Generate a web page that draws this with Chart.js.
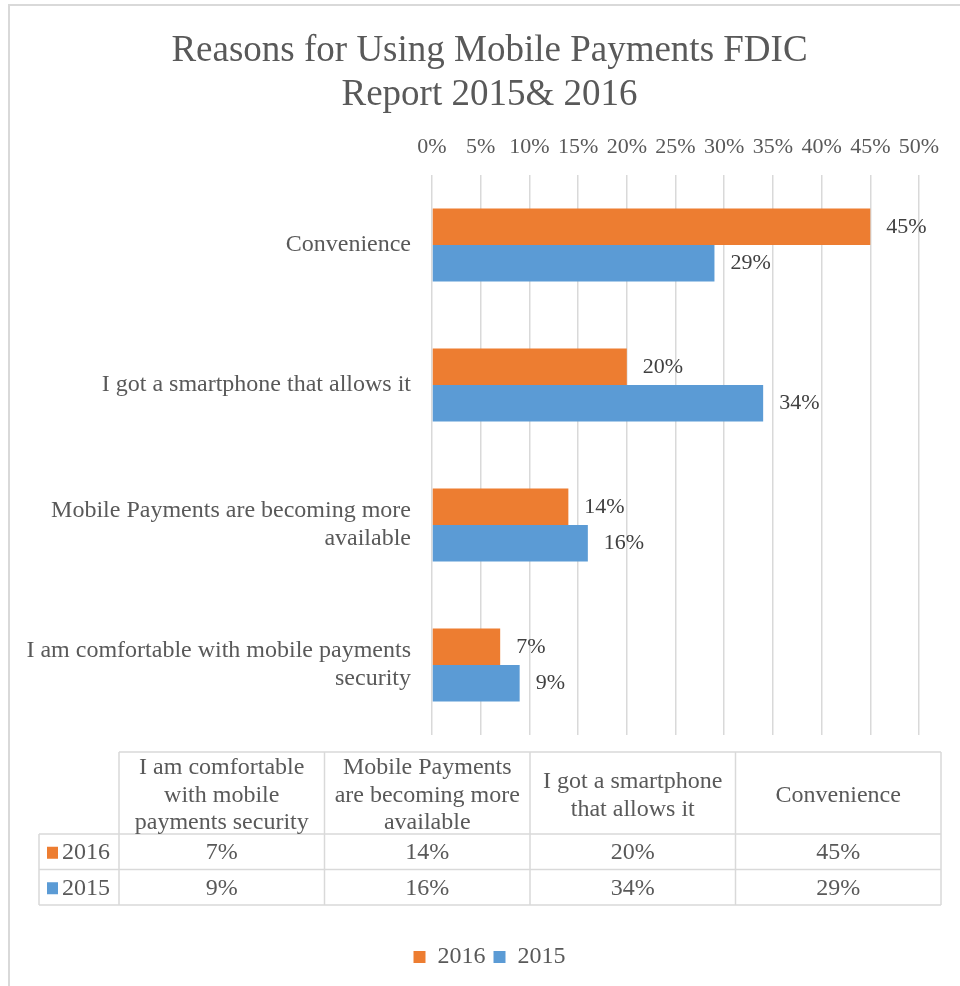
<!DOCTYPE html>
<html>
<head>
<meta charset="utf-8">
<title>Reasons for Using Mobile Payments</title>
<script src="https://cdn.jsdelivr.net/npm/chart.js@4.4.1/dist/chart.umd.min.js"></script>
<style>
    html, body { margin: 0; padding: 0; background: #fff; overflow: hidden; }
</style>
</head>
<body>
<canvas id="motivosChart" width="960" height="986"></canvas>
<script>
// Datos del informe FDIC (porcentajes), en el orden de la tabla
const categorias = [
    'I am comfortable with mobile payments security',
    'Mobile Payments are becoming more available',
    'I got a smartphone that allows it',
    'Convenience'
];
const series = ['2016', '2015'];
const valores2016 = [7, 14, 20, 45];
const valores2015 = [9, 16, 34, 29];
const tituloLineas = ['Reasons for Using Mobile Payments FDIC', 'Report 2015& 2016'];
const escalaMin = 0;   // eje de porcentajes: 0% .. 50% cada 5%
const escalaMax = 50;
const escalaPaso = 5;

const colores = ['#ED7D31', '#5B9BD5'];
const fuente = '"Liberation Serif", "Times New Roman", serif';
const grisTexto = '#595959';
const grisLinea = '#d9d9d9';

Chart.defaults.font.family = fuente;
Chart.defaults.color = grisTexto;

// Parte un texto en lineas que quepan en un ancho dado
const medidor = document.createElement('canvas').getContext('2d');
function partirTexto(texto, tam, anchoMax) {
    medidor.font = tam + 'px ' + fuente;
    const lineas = [];
    let actual = '';
    texto.split(' ').forEach(p => {
        const prueba = actual ? actual + ' ' + p : p;
        if (actual && medidor.measureText(prueba).width > anchoMax) {
            lineas.push(actual);
            actual = p;
        } else {
            actual = prueba;
        }
    });
    if (actual) lineas.push(actual);
    return lineas;
}

// Marco gris del grafico
const marco = {
    id: 'marco',
    beforeDraw(chart) {
        const ctx = chart.ctx;
        ctx.save();
        ctx.strokeStyle = grisLinea;
        ctx.lineWidth = 2;
        ctx.beginPath();
        ctx.moveTo(9, chart.height);
        ctx.lineTo(9, 5);
        ctx.lineTo(chart.width, 5);
        ctx.stroke();
        ctx.restore();
    }
};

// Titulo y leyenda centrados sobre la tabla, no sobre todo el lienzo
const centrado = {
    id: 'centrado',
    afterLayout(chart) {
        chart.titleBlock.left = 60;
        chart.legend.left = 60;
    }
};

// Etiquetas de valor al final de cada barra
const etiquetasValor = {
    id: 'etiquetasValor',
    afterDatasetsDraw(chart) {
        const ctx = chart.ctx;
        ctx.save();
        ctx.font = '22px ' + fuente;
        ctx.fillStyle = '#404040';
        ctx.textAlign = 'left';
        ctx.textBaseline = 'middle';
        chart.data.datasets.forEach((ds, i) => {
            chart.getDatasetMeta(i).data.forEach((barra, j) => {
                ctx.fillText(ds.data[j] + '%', barra.x + 16, barra.y);
            });
        });
        ctx.restore();
    }
};

// Tabla de datos debajo del area del grafico
const tablaDatos = {
    id: 'tablaDatos',
    afterDraw(chart) {
        const ctx = chart.ctx;
        const arriba = chart.chartArea.bottom + 17;
        const izq = 39, anchoEtiqueta = 80, anchoCol = 205.5;
        const altoCab = 82, altoFila = 35.5;
        const x0 = izq + anchoEtiqueta;
        const derecha = x0 + anchoCol * categorias.length;
        const datasets = chart.data.datasets;
        const abajo = arriba + altoCab + altoFila * datasets.length;

        ctx.save();
        ctx.strokeStyle = grisLinea;
        ctx.lineWidth = 1.5;
        ctx.beginPath();
        ctx.moveTo(x0, arriba);
        ctx.lineTo(derecha, arriba);
        for (let i = 0; i <= datasets.length; i++) {
            const y = arriba + altoCab + i * altoFila;
            ctx.moveTo(izq, y);
            ctx.lineTo(derecha, y);
        }
        ctx.moveTo(izq, arriba + altoCab);
        ctx.lineTo(izq, abajo);
        for (let c = 0; c <= categorias.length; c++) {
            const x = x0 + c * anchoCol;
            ctx.moveTo(x, arriba);
            ctx.lineTo(x, abajo);
        }
        ctx.stroke();

        ctx.font = '24px ' + fuente;
        ctx.fillStyle = grisTexto;
        ctx.textAlign = 'center';
        ctx.textBaseline = 'middle';
        // cabecera con los nombres de las categorias
        categorias.forEach((cat, c) => {
            const lineas = partirTexto(cat, 24, anchoCol - 10);
            const cx = x0 + (c + 0.5) * anchoCol;
            const y0 = arriba + altoCab / 2 + 2.5 - (lineas.length - 1) * 27.5 / 2;
            lineas.forEach((l, k) => ctx.fillText(l, cx, y0 + k * 27.5));
        });
        // filas de cada serie
        datasets.forEach((ds, i) => {
            const cy = arriba + altoCab + (i + 0.5) * altoFila + 1;
            ctx.fillStyle = ds.backgroundColor;
            ctx.fillRect(izq + 8, cy - 6, 11, 12);
            ctx.fillStyle = grisTexto;
            ctx.textAlign = 'left';
            ctx.fillText(ds.label, izq + 23, cy);
            ctx.textAlign = 'center';
            ds.data.forEach((v, c) => {
                ctx.fillText(v + '%', x0 + (c + 0.5) * anchoCol, cy);
            });
        });
        ctx.restore();
    }
};

const ctxMotivos = document.getElementById('motivosChart').getContext('2d');
const motivosChart = new Chart(ctxMotivos, {
    type: 'bar',
    data: {
        labels: categorias,
        datasets: [{
            label: series[0],
            data: valores2016,
            backgroundColor: colores[0],
            categoryPercentage: 0.52,
            barPercentage: 1
        }, {
            label: series[1],
            data: valores2015,
            backgroundColor: colores[1],
            categoryPercentage: 0.52,
            barPercentage: 1
        }]
    },
    options: {
        indexAxis: 'y',
        responsive: false,
        animation: false,
        layout: {
            padding: { left: 0, right: 41, top: 0, bottom: 7 }
        },
        plugins: {
            title: {
                display: true,
                text: tituloLineas,
                color: grisTexto,
                font: { size: 37, weight: 'normal', lineHeight: 1.17 },
                padding: { top: 30, bottom: 0 }
            },
            legend: {
                position: 'bottom',
                labels: {
                    boxWidth: 12,
                    boxHeight: 12,
                    padding: 8,
                    color: grisTexto,
                    font: { size: 24 }
                }
            },
            tooltip: { enabled: false }
        },
        scales: {
            x: {
                position: 'top',
                min: escalaMin,
                max: escalaMax,
                ticks: {
                    stepSize: escalaPaso,
                    padding: 15,
                    color: grisTexto,
                    font: { size: 22 },
                    callback: v => v + '%'
                },
                grid: { color: grisLinea, lineWidth: 1.5, drawTicks: false },
                border: { display: false },
                afterFit: s => { s.height = 175 - s.chart.titleBlock.height; }
            },
            // espacio reservado para la tabla de datos
            tabla: {
                type: 'linear',
                position: 'bottom',
                min: 0,
                max: 1,
                ticks: { display: false },
                grid: { display: false, drawTicks: false },
                border: { display: false },
                afterFit: s => { s.height = s.chart.height - 7 - s.chart.legend.height - 735; }
            },
            y: {
                reverse: true,
                ticks: {
                    padding: 21,
                    color: grisTexto,
                    font: { size: 24, lineHeight: 1.15 },
                    callback: function (v) { return partirTexto(this.getLabelForValue(v), 24, 392); }
                },
                grid: { display: false, drawTicks: false },
                border: { display: false },
                afterFit: s => { s.width = 432; }
            }
        }
    },
    plugins: [marco, centrado, etiquetasValor, tablaDatos]
});
</script>
</body>
</html>
